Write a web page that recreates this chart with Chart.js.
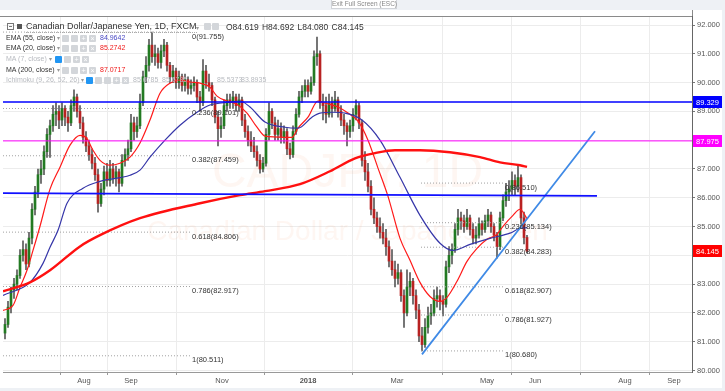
<!DOCTYPE html>
<html><head><meta charset="utf-8">
<script src="https://cdn.jsdelivr.net/npm/chart.js@4.4.1/dist/chart.umd.min.js"></script>
<style>
html,body{margin:0;padding:0;background:#eef1f5;}
#wrap{position:relative;width:725px;height:391px;overflow:hidden;font-family:"Liberation Sans",Arial,sans-serif;}
canvas{position:absolute;left:0;top:0;}
.t{position:absolute;white-space:nowrap;line-height:10px;}
.row{font-size:7px;color:#333;}
.dim{color:#b8bbc0;}
.ic{position:absolute;width:7px;height:7px;background:#d3d6da;border-radius:1px;color:#fff;font-size:7px;line-height:7px;text-align:center;}
.ic.b{background:#2196f3;}
.car{font-size:6px;color:#999;}
</style></head>
<body><div id="wrap"><canvas id="c" width="725" height="391"></canvas>
<div class="t" style="left:331px;top:0;width:64px;height:8px;background:#fff;border:1px solid #d0d3d8;border-top:none;font-size:6.5px;line-height:8px;color:#888;text-align:center">Exit Full Screen (ESC)</div>
<div style="position:absolute;left:7px;top:23px;width:5px;height:5px;border:1px solid #777;"></div>
<div style="position:absolute;left:9px;top:26px;width:3px;height:1px;background:#777"></div>
<div style="position:absolute;left:17px;top:24px;width:5px;height:5px;background:#555"></div>
<div class="t" style="left:26px;top:21px;font-size:9px;color:#333;border-bottom:1px dotted #aaa;line-height:11px">Canadian Dollar/Japanese Yen, 1D, FXCM</div>
<div class="t car" style="left:196px;top:23px">▾</div>
<div class="ic" style="left:204px;top:23px"></div><div class="ic" style="left:212px;top:23px"></div>
<div class="t" style="left:226px;top:22px;font-size:8.5px;color:#333;word-spacing:1px">O84.619 H84.692 L84.080 C84.145</div>

<div class="t row" style="left:6px;top:33px">EMA (55, close) <span class="car">▾</span></div>
<div class="ic" style="left:62px;top:35px"></div><div class="ic" style="left:71px;top:35px"></div><div class="ic" style="left:80px;top:35px">+</div><div class="ic" style="left:89px;top:35px">×</div>
<div class="t row" style="left:100px;top:33px;color:#4b4bc4">84.9642</div>

<div class="t row" style="left:6px;top:43px">EMA (20, close) <span class="car">▾</span></div>
<div class="ic" style="left:62px;top:45px"></div><div class="ic" style="left:71px;top:45px"></div><div class="ic" style="left:80px;top:45px">+</div><div class="ic" style="left:89px;top:45px">×</div>
<div class="t row" style="left:100px;top:43px;color:#f01818">85.2742</div>

<div class="t row dim" style="left:6px;top:54px">MA (7, close) <span class="car">▾</span></div>
<div class="ic b" style="left:55px;top:56px"></div><div class="ic" style="left:64px;top:56px"></div><div class="ic" style="left:73px;top:56px">+</div><div class="ic" style="left:82px;top:56px">×</div>

<div class="t row" style="left:6px;top:65px">MA (200, close) <span class="car">▾</span></div>
<div class="ic" style="left:62px;top:67px"></div><div class="ic" style="left:71px;top:67px"></div><div class="ic" style="left:80px;top:67px">+</div><div class="ic" style="left:89px;top:67px">×</div>
<div class="t row" style="left:100px;top:65px;color:#f01818">87.0717</div>

<div class="t row dim" style="left:6px;top:75px">Ichimoku (9, 26, 52, 26) <span class="car">▾</span></div>
<div class="ic b" style="left:86px;top:77px"></div><div class="ic" style="left:95px;top:77px"></div><div class="ic" style="left:104px;top:77px"></div><div class="ic" style="left:113px;top:77px">+</div><div class="ic" style="left:122px;top:77px">×</div>
<div class="t row dim" style="left:133px;top:75px">85.6785</div>
<div class="t row dim" style="left:162px;top:75px">85.6785</div>
<div class="t row dim" style="left:217px;top:75px">85.5373</div>
<div class="t row dim" style="left:241px;top:75px">83.8935</div>
</div>
<script>
// ---- data (bar index units) ----
const opens = [81.3,81.6,82.2,82.8,83.0,83.3,84.0,84.2,83.7,84.6,
85.6,86.2,86.8,87.0,87.6,88.2,88.5,88.9,89.0,88.7,
89.1,88.8,88.6,89.2,89.5,89.0,88.6,88.1,87.8,87.5,
87.2,86.8,85.8,86.3,86.9,86.6,87.0,86.7,86.9,86.5,
87.3,87.5,87.7,88.6,88.3,88.5,89.3,90.2,90.6,91.3,
90.9,91.0,90.7,91.1,91.3,90.6,90.2,90.4,90.0,90.2,
89.9,90.1,89.8,89.9,90.0,89.5,89.3,90.4,90.0,89.9,
89.4,88.8,88.4,88.5,89.2,89.4,89.3,89.5,89.2,89.4,
88.7,88.3,88.0,87.8,87.6,87.3,87.0,87.2,88.2,89.0,
88.6,88.2,88.4,88.1,88.3,87.7,87.5,88.3,88.9,89.5,
89.7,89.9,89.7,90.0,90.9,91.0,89.3,89.2,88.9,89.3,
89.1,89.4,89.0,88.7,88.5,88.3,88.5,88.9,89.2,88.6,
87.3,86.9,86.4,85.6,85.3,85.0,84.8,84.6,84.3,83.8,
83.5,83.2,83.4,82.6,82.0,82.9,83.1,82.6,82.1,81.2,
80.9,81.5,81.9,82.0,82.5,82.6,82.4,82.3,83.6,84.0,
84.2,84.9,85.3,85.2,85.0,85.3,84.9,84.6,84.7,85.1,
84.9,85.2,85.4,85.0,84.7,84.3,85.3,85.9,86.2,86.3,
86.6,86.4,86.7,85.3,84.619];
const highs = [81.8,82.4,82.9,83.2,83.5,84.2,84.5,84.4,84.8,85.8,
86.4,87.0,87.3,87.8,88.4,88.7,89.2,89.3,89.2,89.3,
89.2,89.0,89.4,89.75,89.6,89.2,88.8,88.3,88.0,87.7,
87.4,87.0,86.5,87.1,87.2,87.3,87.2,87.1,87.0,87.5,
87.7,88.0,88.9,88.8,88.8,89.6,90.4,90.9,91.5,91.755,
91.3,91.2,91.3,91.5,91.4,90.7,90.6,90.5,90.4,90.3,
90.3,90.2,90.1,90.2,90.1,89.7,90.8,90.6,90.3,90.0,
89.5,89.0,88.8,89.4,89.6,89.6,89.7,89.6,89.6,89.5,
88.9,88.5,88.3,88.1,87.8,87.5,87.4,88.4,89.3,89.1,
88.8,88.7,88.6,88.5,88.4,87.9,88.5,89.1,89.7,89.9,
90.1,90.1,90.2,91.1,91.58,91.1,89.6,89.5,89.6,89.5,
89.7,89.5,89.2,88.9,88.6,88.7,89.1,89.4,89.3,88.7,
87.6,87.2,86.6,86.0,85.5,85.3,85.1,84.9,84.5,84.2,
83.8,83.7,83.5,82.8,83.5,83.4,83.2,82.8,82.3,81.5,
81.8,82.2,82.3,82.8,82.9,82.8,82.6,83.8,84.3,84.4,
85.1,85.6,85.5,85.4,85.6,85.4,85.1,85.0,85.3,85.2,
85.4,85.6,85.5,85.1,84.8,85.5,86.1,86.5,86.6,86.9,
86.8,87.13,86.8,85.5,84.692];
const lows = [81.1,81.5,82.0,82.5,82.8,83.2,83.8,83.5,83.6,84.4,
85.4,86.0,86.5,86.8,87.4,87.4,88.3,88.5,88.4,88.5,
88.5,88.3,88.5,89.0,88.8,88.4,87.9,87.6,87.3,87.0,
86.6,85.5,85.7,86.1,86.4,86.4,86.5,86.4,86.2,86.4,
87.1,87.3,87.6,88.0,88.1,88.4,89.2,90.0,90.4,90.7,
90.6,90.5,90.5,90.9,90.4,90.0,90.0,89.8,89.8,89.7,
89.7,89.6,89.6,89.7,89.3,89.0,89.2,89.8,89.7,89.2,
88.6,87.8,88.1,88.4,89.0,89.1,89.1,89.0,89.0,88.5,
88.1,87.8,87.6,87.4,87.1,86.85,86.9,87.1,88.0,88.4,
88.0,88.0,87.9,87.9,87.5,87.35,87.4,88.2,88.8,89.3,
89.5,89.5,89.6,89.9,90.6,89.1,88.7,88.6,88.8,88.8,
89.0,88.8,88.5,88.2,87.8,88.1,88.3,88.7,88.4,87.1,
86.6,86.2,85.4,85.1,84.8,84.6,84.4,84.0,83.6,83.3,
82.9,83.0,82.4,81.5,81.9,82.6,82.3,81.8,81.0,80.68,
80.8,81.3,81.6,81.9,82.2,82.1,81.9,82.2,83.4,83.7,
84.1,84.7,84.9,84.8,84.9,84.7,84.4,84.4,84.6,84.7,
84.8,85.0,84.8,84.5,83.9,84.2,85.2,85.7,85.9,86.1,
86.1,86.2,85.1,84.4,84.08];
const closes = [81.6,82.2,82.8,83.0,83.3,84.0,84.2,83.7,84.6,85.6,
86.2,86.8,87.0,87.6,88.2,88.5,88.9,89.0,88.7,89.1,
88.8,88.6,89.2,89.5,89.0,88.6,88.1,87.8,87.5,87.2,
86.8,85.8,86.3,86.9,86.6,87.0,86.7,86.9,86.5,87.3,
87.5,87.7,88.6,88.3,88.5,89.3,90.2,90.6,91.3,90.9,
91.0,90.7,91.1,91.3,90.6,90.2,90.4,90.0,90.2,89.9,
90.1,89.8,89.9,90.0,89.5,89.3,90.4,90.0,89.9,89.4,
88.8,88.4,88.5,89.2,89.4,89.3,89.5,89.2,89.4,88.7,
88.3,88.0,87.8,87.6,87.3,87.0,87.2,88.2,89.0,88.6,
88.2,88.4,88.1,88.3,87.7,87.5,88.3,88.9,89.5,89.7,
89.9,89.7,90.0,90.9,91.0,89.3,89.2,88.9,89.3,89.1,
89.4,89.0,88.7,88.5,88.3,88.5,88.9,89.2,88.6,87.3,
86.9,86.4,85.6,85.3,85.0,84.8,84.6,84.3,83.8,83.5,
83.2,83.4,82.6,82.0,82.9,83.1,82.6,82.1,81.2,80.9,
81.5,81.9,82.0,82.5,82.6,82.4,82.3,83.6,84.0,84.2,
84.9,85.3,85.2,85.0,85.3,84.9,84.6,84.7,85.1,84.9,
85.2,85.4,85.0,84.7,84.3,85.3,85.9,86.2,86.3,86.6,
86.4,86.7,85.3,84.619,84.145];

// moving averages: [bar index, value]
const ma200 = [[-0.67,82.75],[8.33,83.06],[15,83.48],[25,84.31],[31.67,84.70],[45,85.29],[65,85.81],[78.33,86.09],[86.67,86.23],[98.33,86.47],[108.33,86.92],[116.67,87.37],[123.33,87.55],[130,87.65],[138.33,87.65],[148.33,87.58],[158.33,87.41],[165,87.23],[171.67,87.13],[174,87.07]];
const ema55 = [[-0.67,82.61],[8.33,83.06],[12.67,83.72],[15,84.28],[17.67,84.87],[20.67,85.81],[26,86.33],[31.67,86.57],[41.67,86.78],[45,86.96],[48.33,87.41],[53.33,88.0],[58.33,88.52],[64,88.97],[68.33,89.22],[75,89.32],[78.33,89.36],[81.67,89.15],[86.67,88.63],[93.33,88.45],[97.67,88.42],[102.33,88.80],[105,88.94],[109,88.97],[113.33,88.94],[119,88.70],[125,88.0],[131.67,86.71],[138.33,85.39],[145,84.42],[149.33,84.17],[155,84.38],[161.67,84.59],[168.33,84.77],[171.67,84.94],[174,84.96]];
const ema20 = [[-0.67,82.09],[2.67,82.26],[5,82.89],[7.33,83.48],[9.33,84.17],[11.67,85.01],[15,86.30],[18.33,87.06],[21.67,87.83],[25,88.17],[27,88.10],[29.33,87.65],[31.67,87.30],[35,87.13],[38.33,87.20],[41.67,87.41],[45,87.90],[48.33,88.70],[51.67,89.63],[55,89.98],[58.33,90.09],[61.67,90.02],[65,89.98],[68.33,89.84],[70.67,89.53],[74,89.36],[77.33,89.25],[80.67,88.94],[84,88.45],[86.67,88.14],[93.33,88.10],[95.67,88.10],[97.67,88.42],[101,88.80],[104.33,89.36],[106.67,89.29],[111,89.15],[114.33,88.94],[117.67,88.66],[121,88.0],[124.33,87.03],[127.67,86.05],[131.67,84.59],[135,83.83],[138.33,83.06],[141.67,82.57],[145,82.40],[147.33,82.54],[150.67,83.10],[154,83.79],[157.33,84.24],[160.67,84.56],[164,84.73],[166,85.01],[169.33,85.39],[171.67,85.60],[174,85.27]];

// drawn levels
const levelBlue = 89.329, levelMagenta = 87.975, lastClose = 84.145;
const blueSupport = [[-0.67,86.163],[197.33,86.063]];
const trendLine = [[139,80.56],[196.67,88.31]];
const fibRatios = ['0','0.236','0.382','0.618','0.786','1'];
const fibLeftLevels = [91.755,89.101,87.459,84.806,82.917,80.511];
const fibRightLevels = [86.510,85.134,84.283,82.907,81.927,80.680];
const fibLeftSpan = [-0.67,61.67];
const fibRightSpan = [138.67,166];

// axes
const xTickPos = [26.33,42,72.33,101,130.67,160.67,176.67,206.67,223];
const xTickLabels = ['Aug','Sep','Nov','2018','Mar','May','Jun','Aug','Sep'];
const yTicks = [80,81,82,83,84,85,86,87,88,89,90,91,92];
const xRange = [-0.667,229];
const yRange = [79.948,92.313];

// ---- chart ----
Chart.defaults.font.family = '"Liberation Sans", Arial, sans-serif';
const GREEN = '#237a23', RED = '#b82222';
const pts = a => a.map(p => ({x:p[0], y:p[1]}));
const idx = closes.map((_, i) => i);
const datasets = [];
datasets.push({type:'bar', data: idx.map(i => ({x:i, y:[lows[i], highs[i]]})), backgroundColor:'#5a5a5a', barThickness:1, grouped:false, order:6});
datasets.push({type:'bar', data: idx.map(i => ({x:i, y:[opens[i], closes[i]]})), backgroundColor: idx.map(i => closes[i] >= opens[i] ? GREEN : RED), barThickness:2, minBarLength:1, grouped:false, order:5});
const lineDs = (data, color, w, extra) => Object.assign({type:'line', data: pts(data), borderColor:color, borderWidth:w, pointRadius:0, fill:false, tension:0.4, cubicInterpolationMode:'monotone', order:3}, extra || {});
datasets.push(lineDs(ma200, '#ff1010', 2.4));
datasets.push(lineDs(ema55, '#3535a8', 1.2));
datasets.push(lineDs(ema20, '#ff1a1a', 1.2));
fibLeftLevels.forEach(v => datasets.push(lineDs([[fibLeftSpan[0], v],[fibLeftSpan[1], v]], '#a0a0a0', 1, {borderDash:[1,2], tension:0, order:4})));
fibRightLevels.forEach(v => datasets.push(lineDs([[fibRightSpan[0], v],[fibRightSpan[1], v]], '#a0a0a0', 1, {borderDash:[1,2], tension:0, order:4})));
datasets.push(lineDs([[xRange[0], levelBlue],[xRange[1], levelBlue]], '#0000ff', 1.5, {tension:0, order:1}));
datasets.push(lineDs([[xRange[0], levelMagenta],[xRange[1], levelMagenta]], '#ff00ff', 1, {tension:0, order:1}));
datasets.push(lineDs(blueSupport, '#1010ff', 1.8, {tension:0, order:1}));
datasets.push(lineDs(trendLine, '#3f8ae6', 1.8, {tension:0, order:1}));

const deco = {
  id:'deco',
  beforeDraw(chart){
    const c = chart.ctx; c.save();
    c.fillStyle = '#eef1f5'; c.fillRect(0,0,725,391);
    c.fillStyle = '#ffffff'; c.fillRect(0,10,722,378);
    c.restore();
  },
  beforeDatasetsDraw(chart){
    const c = chart.ctx, a = chart.chartArea;
    const cx = (a.left + a.right) / 2;
    c.save();
    c.fillStyle = 'rgba(240,130,80,0.075)';
    c.textAlign = 'center'; c.textBaseline = 'alphabetic';
    c.font = '48px "Liberation Sans", Arial';
    c.fillText('CADJPY, 1D', cx, 187);
    c.font = '28px "Liberation Sans", Arial';
    c.fillText('Canadian Dollar / Japanese Yen', cx, 240);
    c.restore();
  },
  afterDatasetsDraw(chart){
    const c = chart.ctx, xs = chart.scales.x, ys = chart.scales.y;
    c.save();
    c.font = '7.5px "Liberation Sans", Arial';
    c.fillStyle = '#333'; c.textAlign = 'left'; c.textBaseline = 'middle';
    fibLeftLevels.forEach((v, k) => c.fillText(fibRatios[k] + '(' + v.toFixed(3) + ')', xs.getPixelForValue(fibLeftSpan[1]) + 2, ys.getPixelForValue(v) + 4.5));
    fibRightLevels.forEach((v, k) => c.fillText(fibRatios[k] + '(' + v.toFixed(3) + ')', xs.getPixelForValue(fibRightSpan[1]) + 2, ys.getPixelForValue(v) + 4.5));
    c.restore();
  },
  afterDraw(chart){
    const c = chart.ctx, a = chart.chartArea, ys = chart.scales.y;
    c.save();
    c.strokeStyle = '#8a8a8a'; c.lineWidth = 1;
    c.beginPath(); c.moveTo(0, a.top + 0.5); c.lineTo(a.right, a.top + 0.5); c.stroke();
    c.beginPath(); c.moveTo(a.right + 0.5, 10); c.lineTo(a.right + 0.5, a.top); c.stroke();
    const tag = (v, col) => {
      const y = Math.round(ys.getPixelForValue(v));
      c.fillStyle = col; c.fillRect(a.right + 1, y - 6, 29, 12);
      c.fillStyle = '#fff'; c.font = '7.5px "Liberation Sans", Arial';
      c.textAlign = 'left'; c.textBaseline = 'middle';
      c.fillText(v.toFixed(3), a.right + 4, y + 0.5);
    };
    tag(levelBlue, '#0000ff'); tag(levelMagenta, '#ff00ff'); tag(lastClose, '#ff0000');
    c.restore();
  }
};

new Chart(document.getElementById('c'), {
  type:'bar',
  data:{datasets},
  options:{
    responsive:false, animation:false, events:[], devicePixelRatio:1,
    layout:{padding:{left:3, top:16, right:3, bottom:3}},
    plugins:{legend:{display:false}, tooltip:{enabled:false}},
    scales:{
      x:{type:'linear', min:xRange[0], max:xRange[1], offset:false,
        afterBuildTicks: s => { s.ticks = xTickPos.map(v => ({value:v})); },
        afterFit: s => { s.height = 16; },
        ticks:{autoSkip:false, maxRotation:0, padding:1, color:'#555',
          callback:(v, i) => xTickLabels[i],
          font: ctx => ({size:7.5, weight: (ctx.tick && ctx.tick.label === '2018') ? 'bold' : 'normal'})},
        grid:{color:'#ececec', tickLength:3, tickColor:'#999'},
        border:{color:'#999'}},
      y:{type:'linear', position:'right', min:yRange[0], max:yRange[1],
        afterBuildTicks: s => { s.ticks = yTicks.map(v => ({value:v})); },
        afterFit: s => { s.width = 30; },
        ticks:{padding:2, color:'#555', font:{size:7.5}, callback: v => Number(v).toFixed(3)},
        grid:{color:'#ececec', tickLength:3, tickColor:'#777'},
        border:{color:'#666'}}
    }
  },
  plugins:[deco]
});
</script>
</body></html>
